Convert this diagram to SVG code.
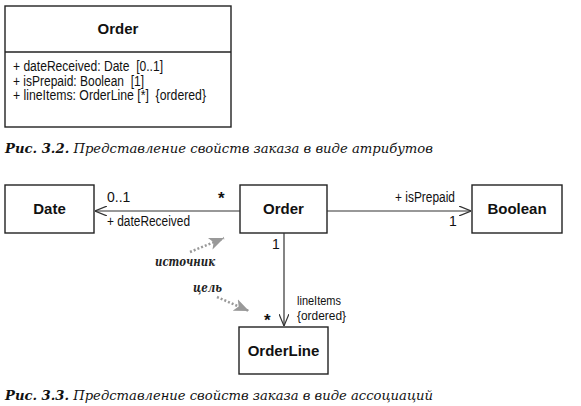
<svg xmlns="http://www.w3.org/2000/svg" width="581" height="406" viewBox="0 0 581 406">
<style>
.box{fill:#fff;stroke:#222;stroke-width:1.4}
.t{font-family:"Liberation Sans",Arial,sans-serif;font-size:14px;fill:#111;white-space:pre}
.s{font-size:12.5px}
.b{font-family:"Liberation Sans",Arial,sans-serif;font-size:15px;font-weight:bold;fill:#111}
.cap{font-family:"DejaVu Serif","Liberation Serif",serif;font-size:13.5px;font-style:italic;fill:#111}
.hand{font-family:"DejaVu Serif","Liberation Serif",serif;font-size:12px;font-style:italic;font-weight:bold;fill:#222}
.star{font-family:"Liberation Sans",Arial,sans-serif;font-size:17px;font-weight:bold;fill:#111}
.conn{stroke:#333;stroke-width:1.2;fill:none}
.note{stroke:#999;stroke-width:2.5;stroke-dasharray:2 2;fill:none}
</style>
<defs>
<marker id="open" viewBox="0 0 12 10" refX="12" refY="5" markerWidth="12" markerHeight="10" markerUnits="userSpaceOnUse" orient="auto">
<path d="M0,0 L12,5 L0,10" fill="none" stroke="#333" stroke-width="1.2"/>
</marker>
<marker id="fill" viewBox="0 0 12 10" refX="12" refY="5" markerWidth="15" markerHeight="13" markerUnits="userSpaceOnUse" orient="auto">
<path d="M0,0 L12,5 L0,10 L3,5 Z" fill="#999"/>
</marker>
</defs>
<rect width="581" height="406" fill="#fff"/>

<g id="order-attrs">
<rect class="box" x="5" y="6" width="226" height="121"/>
<line class="box" x1="5" y1="52" x2="231" y2="52"/>
<text class="b" x="118" y="34" text-anchor="middle">Order</text>
<text class="t" x="13" y="71" textLength="150" lengthAdjust="spacingAndGlyphs">+ dateReceived: Date  [0..1]</text>
<text class="t" x="13" y="85.5" textLength="131" lengthAdjust="spacingAndGlyphs">+ isPrepaid: Boolean  [1]</text>
<text class="t" x="13" y="100" textLength="193" lengthAdjust="spacingAndGlyphs">+ lineItems: OrderLine [*]  {ordered}</text>
</g>
<text class="cap" x="5" y="153" textLength="428" lengthAdjust="spacingAndGlyphs"><tspan font-weight="bold">Рис. 3.2.</tspan> Представление свойств заказа в виде атрибутов</text>

<g id="date">
<rect class="box" x="5" y="185" width="89" height="48"/>
<text class="b" x="49.5" y="214" text-anchor="middle">Date</text>
</g>
<g id="order">
<rect class="box" x="240" y="185" width="87" height="48"/>
<text class="b" x="283.5" y="214" text-anchor="middle">Order</text>
</g>
<g id="boolean">
<rect class="box" x="472" y="185" width="90" height="48"/>
<text class="b" x="517" y="214" text-anchor="middle">Boolean</text>
</g>
<g id="orderline">
<rect class="box" x="239" y="327" width="89" height="47"/>
<text class="b" x="283.5" y="356" text-anchor="middle">OrderLine</text>
</g>

<g id="connectors">
<line class="conn" x1="240" y1="211" x2="95" y2="211" marker-end="url(#open)"/>
<line class="conn" x1="327" y1="211" x2="471" y2="211" marker-end="url(#open)"/>
<line class="conn" x1="284" y1="233" x2="284" y2="326" marker-end="url(#open)"/>
<path class="note" d="M190,252 L224,238" marker-end="url(#fill)"/>
<path class="note" d="M217,297 L249,311" marker-end="url(#fill)"/>
</g>

<g id="labels">
<text class="t" x="107" y="202">0..1</text>
<text class="star" x="218" y="204">*</text>
<text class="t" x="107" y="226" textLength="83" lengthAdjust="spacingAndGlyphs">+ dateReceived</text>
<text class="t" x="395" y="202" textLength="60" lengthAdjust="spacingAndGlyphs">+ isPrepaid</text>
<text class="t" x="449" y="226">1</text>
<text class="t" x="272" y="249">1</text>
<text class="t s" x="297" y="305" textLength="44" lengthAdjust="spacingAndGlyphs">lineItems</text>
<text class="t s" x="297" y="319.5" textLength="49" lengthAdjust="spacingAndGlyphs">{ordered}</text>
<text class="star" x="264" y="326">*</text>
<text class="hand" x="155" y="266" textLength="60" lengthAdjust="spacingAndGlyphs">источник</text>
<text class="hand" x="193" y="292" textLength="29" lengthAdjust="spacingAndGlyphs">цель</text>
</g>
<text class="cap" x="5" y="400" textLength="428" lengthAdjust="spacingAndGlyphs"><tspan font-weight="bold">Рис. 3.3.</tspan> Представление свойств заказа в виде ассоциаций</text>
</svg>
